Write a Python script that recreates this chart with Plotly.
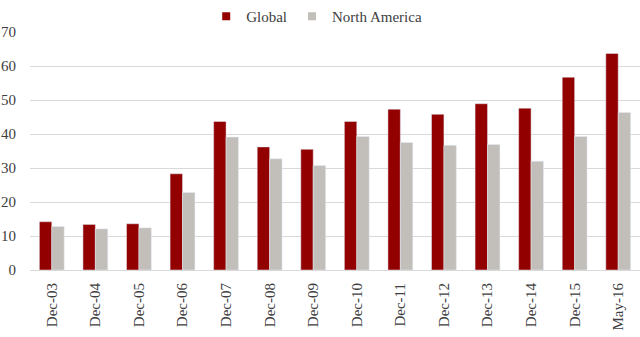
import plotly.graph_objects as go

categories = ["Dec-03", "Dec-04", "Dec-05", "Dec-06", "Dec-07", "Dec-08", "Dec-09",
              "Dec-10", "Dec-11", "Dec-12", "Dec-13", "Dec-14", "Dec-15", "May-16"]
global_vals = [14.2, 13.4, 13.6, 28.3, 43.7, 36.2, 35.5, 43.7, 47.3, 45.8, 48.9, 47.6, 56.7, 63.7]
na_vals = [12.8, 12.1, 12.4, 22.8, 39.1, 32.7, 30.7, 39.3, 37.5, 36.7, 36.9, 32.0, 39.3, 46.3]
y_ticks = [0, 10, 20, 30, 40, 50, 60, 70]
series_names = ["Global", "North America"]
series_colors = ["#920000", "#C2BEB9"]

FONT = "Liberation Serif"
TXT = "#404040"

fig = go.Figure()
for name, vals, col in zip(series_names, [global_vals, na_vals], series_colors):
    fig.add_trace(go.Bar(x=categories, y=vals, name=name, marker_color=col,
                         showlegend=False, legendgroup=name))
# legend entries with small square markers
for name, col in zip(series_names, series_colors):
    fig.add_trace(go.Scatter(x=[None], y=[None], mode="markers", name=name, legendgroup=name,
                             marker=dict(symbol="square", size=8, color=col)))

fig.update_layout(
    width=640, height=337,
    margin=dict(l=30, r=0, t=30, b=67),
    paper_bgcolor="white", plot_bgcolor="white",
    barmode="group", bargap=0.43, bargroupgap=0,
    font=dict(family=FONT, size=15, color=TXT),
    legend=dict(orientation="h", x=0.47, xanchor="center", y=1.067, yanchor="middle",
                font=dict(family=FONT, size=15, color=TXT), itemwidth=30,
                traceorder="normal", bgcolor="rgba(0,0,0,0)"),
    xaxis=dict(tickangle=-90, showgrid=False, showline=False, ticks="outside", ticklen=6,
               tickcolor="rgba(0,0,0,0)", tickfont=dict(family=FONT, size=15, color=TXT)),
    yaxis=dict(range=[0, 70], tickvals=y_ticks, showgrid=True, gridcolor="#D9D9D9", gridwidth=1,
               zeroline=True, zerolinecolor="#D9D9D9", zerolinewidth=1, showline=False,
               ticks="outside", ticklen=10, tickcolor="rgba(0,0,0,0)",
               tickfont=dict(family=FONT, size=15, color=TXT)),
)

fig.write_html("out.html")
